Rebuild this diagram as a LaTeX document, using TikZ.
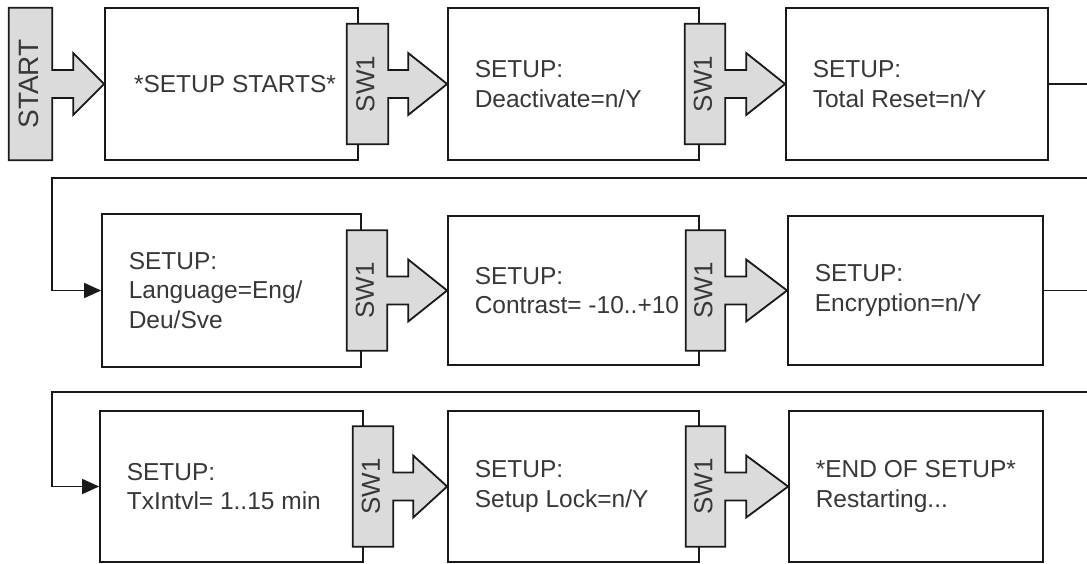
\documentclass[tikz,border=0pt]{standalone}
\usepackage{graphicx}
\usepackage{fontspec}
\setmainfont{Liberation Sans}
\usetikzlibrary{arrows.meta,calc}
\newcommand\bigarrow[3]{%
  \filldraw[shp] (#1.north west) -- (#1.north east) -- ([yshift=14pt]#1.east)
    -- ([xshift=#3,yshift=14pt]#1.east) -- ([xshift=#3,yshift=31pt]#1.east)
    -- (#2.west)
    -- ([xshift=#3,yshift=-31pt]#1.east) -- ([xshift=#3,yshift=-14pt]#1.east)
    -- ([yshift=-14pt]#1.east) -- (#1.south east) -- (#1.south west) -- cycle;}
\begin{document}
\begin{tikzpicture}[x=1pt,y=-1pt,
  box/.style={draw=black!90, line width=1.8pt, fill=white, inner sep=0pt},
  txt/.style={align=left, inner sep=0pt, text=black!78, font=\fontsize{24.5}{29.5}\selectfont, anchor=west},
  swbox/.style={inner sep=0pt, minimum height=120pt},
  shp/.style={draw=black!90, fill=black!14, line width=1.8pt, line join=miter},
  swlab/.style={inner sep=0pt, text=black!78, font=\fontsize{26}{26}\selectfont},
  conn/.style={draw=black!90, line width=1.8pt, -{Triangle[length=17pt,width=15pt]}}]
\useasboundingbox (0,0) rectangle (1087,563);
\clip (0,0) rectangle (1087,563);
% row 1
\node[box, minimum width=253pt, minimum height=152pt] (b1) at (231.5,84) {};
\node[box, minimum width=251pt, minimum height=152pt] (b2) at (573.5,84) {};
\node[box, minimum width=262pt, minimum height=152pt] (b3) at (917,84) {};
% row 2
\node[box, minimum width=259pt, minimum height=153pt] (b4) at (231.5,290.5) {};
\node[box, minimum width=251pt, minimum height=149pt] (b5) at (573.5,290.5) {};
\node[box, minimum width=255pt, minimum height=149pt] (b6) at (915.5,290.5) {};
% row 3
\node[box, minimum width=263pt, minimum height=151pt] (b7) at (231.5,486.5) {};
\node[box, minimum width=251pt, minimum height=151pt] (b8) at (573.5,486.5) {};
\node[box, minimum width=254pt, minimum height=151pt] (b9) at (916,486.5) {};
% texts
\node[txt, anchor=center] (t1) at (235,84) {*SETUP STARTS*};
\node[txt] (t2) at ([xshift=27.5pt]b2.west) {SETUP:\\Deactivate=n/Y};
\node[txt] (t3) at ([xshift=27.5pt]b3.west) {SETUP:\\Total Reset=n/Y};
\node[txt] (t4) at ([xshift=27.5pt]b4.west) {SETUP:\\Language=Eng/\\Deu/Sve};
\node[txt] (t5) at ([xshift=27.5pt]b5.west) {SETUP:\\Contrast= -10..+10};
\node[txt] (t6) at ([xshift=27.5pt]b6.west) {SETUP:\\Encryption=n/Y};
\node[txt] (t7) at ([xshift=27.5pt]b7.west) {SETUP:\\TxIntvl= 1..15 min};
\node[txt] (t8) at ([xshift=27.5pt]b8.west) {SETUP:\\Setup Lock=n/Y};
\node[txt] (t9) at ([xshift=27.5pt]b9.west) {*END OF SETUP*\\Restarting...};
% START
\node[swbox, minimum width=43pt, minimum height=152pt] (st) at (30.5,84) {};
\bigarrow{st}{b1}{21pt}
\node[swlab, font=\fontsize{28}{28}\selectfont] (stl) at ([xshift=-2pt]st.center) {\rotatebox{90}{START}};
% SW1 shapes
\node[swbox, minimum width=41pt] (s1) at (367.5,84) {};
\node[swbox, minimum width=40pt] (s2) at (705,84) {};
\node[swbox, minimum width=40pt] (s3) at (367,290.5) {};
\node[swbox, minimum width=39pt] (s4) at (705.5,290.5) {};
\node[swbox, minimum width=40pt] (s5) at (373,486.5) {};
\node[swbox, minimum width=39pt] (s6) at (705.5,486.5) {};
\bigarrow{s1}{b2}{20pt}
\bigarrow{s2}{b3}{21pt}
\bigarrow{s3}{b5}{21pt}
\bigarrow{s4}{b6}{21pt}
\bigarrow{s5}{b8}{20pt}
\bigarrow{s6}{b9}{21pt}
\node[swlab] (l1) at ([xshift=-2pt]s1.center) {\rotatebox{90}{SW1}};
\node[swlab] (l2) at ([xshift=-2pt]s2.center) {\rotatebox{90}{SW1}};
\node[swlab] (l3) at ([xshift=-2pt]s3.center) {\rotatebox{90}{SW1}};
\node[swlab] (l4) at ([xshift=-2pt]s4.center) {\rotatebox{90}{SW1}};
\node[swlab] (l5) at ([xshift=-2pt]s5.center) {\rotatebox{90}{SW1}};
\node[swlab] (l6) at ([xshift=-2pt]s6.center) {\rotatebox{90}{SW1}};
% connectors between rows
\coordinate (r1) at (1110,178);
\coordinate (k1) at (52,178);
\coordinate (r2) at (1110,392);
\coordinate (k2) at (52,392);
\draw[conn] (b3.east) -| (r1) -- (k1) |- (b4.west);
\draw[conn] (b6.east) -| (r2) -- (k2) |- (b7.west);
\end{tikzpicture}
\end{document}
